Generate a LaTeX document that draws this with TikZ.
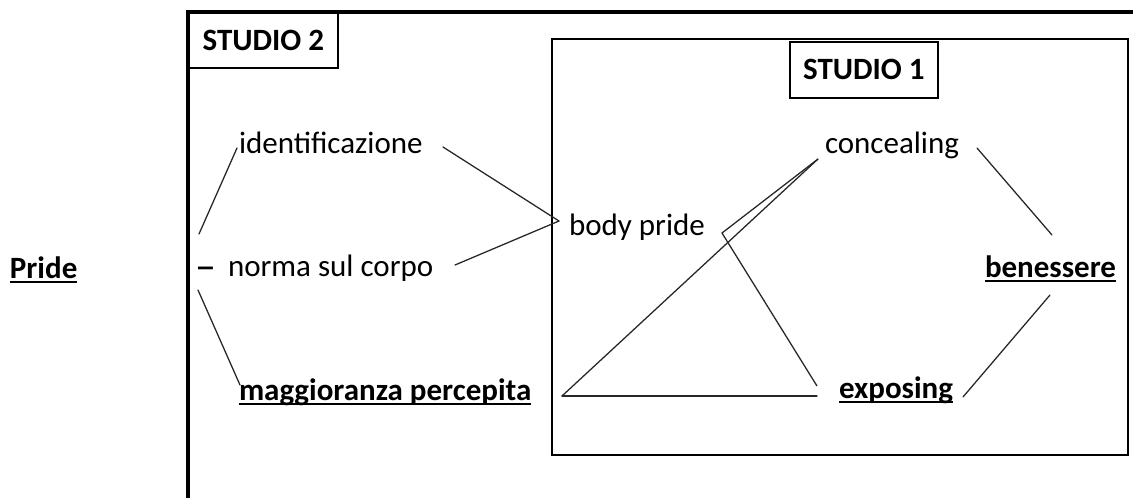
\documentclass[tikz,border=0pt]{standalone}
\usepackage{fontspec}
\setmainfont{Carlito}
\newcommand\myul[1]{\setbox0\hbox{#1}\rlap{\rule[-3.5pt]{\wd0}{1.4pt}}\box0}
\begin{document}
\begin{tikzpicture}[x=0.75pt,y=-0.75pt,
  txt/.style={inner sep=0pt,outer sep=0pt,anchor=base west,font=\fontsize{23.25}{28}\selectfont},
  btxt/.style={txt,font=\fontsize{23.25}{28}\selectfont\bfseries},
  labelbox/.style={draw,line width=1.3pt,inner sep=0pt,anchor=north west,font=\fontsize{23.25}{28}\selectfont\bfseries},
  conn/.style={line width=0.95pt,black!85,line cap=round}]
\useasboundingbox (0,0) rectangle (1133,497);
\fill[white] (0,0) rectangle (1133,497);
\clip (0,0) rectangle (1133,497);

% frames
\draw[line width=3pt] (188,510) -- (188,12) -- (1145,12);
\draw[line width=2.1pt] (552,39) rectangle (1128,455);
\node[labelbox,minimum width=111.75pt,minimum height=41.25pt] (studio2) at (188,12) {STUDIO 2};
\node[labelbox,minimum width=111pt,minimum height=42pt] (studio1) at (789,41) {STUDIO 1};

% texts
\node[btxt] (pride) at (10,278) {\myul{Pride}};
\node[txt] (ident) at (239,153) {identificazione};
\node[txt] (dash) at (195,280) {\scalebox{1.35}[1.4]{–}};
\node[txt] (norma) at (228,276) {norma sul corpo};
\node[btxt] (magg) at (239,400) {\myul{maggioranza percepita}};
\node[txt] (body) at (569,235) {body pride};
\node[txt] (conc) at (825,153) {concealing};
\node[btxt] (ben) at (985,277) {\myul{benessere}};
\node[btxt] (expo) at (839,398) {\myul{exposing}};

% connector end points
\coordinate (identL) at (237,148);
\coordinate (prideU) at (199,234);
\coordinate (prideD) at (198,290);
\coordinate (maggL) at (240,385);
\coordinate (identR) at (443,147);
\coordinate (normaR) at (455,265);
\coordinate (bodyL) at (559,221);
\coordinate (maggR) at (562,396);
\coordinate (concL) at (818,159);
\coordinate (bodyR) at (722,233);
\coordinate (expoL) at (817,386);
\coordinate (expoLb) at (817,396);
\coordinate (concR) at (977,148);
\coordinate (benU) at (1052,235);
\coordinate (benD) at (1050,295);
\coordinate (expoR) at (963,397);

% connectors
\draw[conn] (prideU) -- (identL);
\draw[conn] (prideD) -- (maggL);
\draw[conn] (identR) -- (bodyL);
\draw[conn] (normaR) -- (bodyL);
\draw[conn] (maggR) -- (concL);
\draw[conn,line cap=butt] (concL) -- (bodyR) -- (expoL);
\draw[conn] (maggR) -- (expoLb);
\draw[conn] (concR) -- (benU);
\draw[conn] (expoR) -- (benD);
\end{tikzpicture}
\end{document}
